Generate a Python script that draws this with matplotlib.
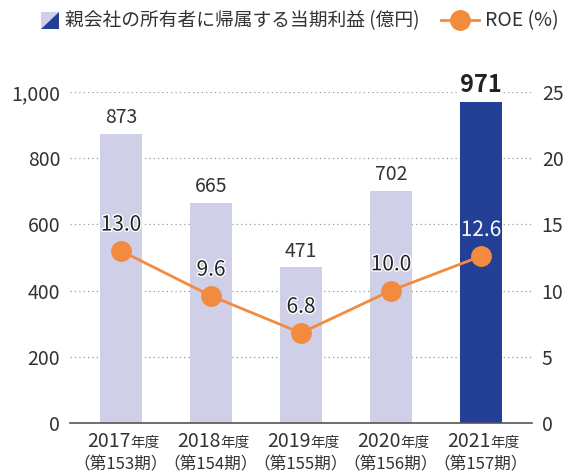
import matplotlib.pyplot as plt
import matplotlib.patheffects as pe
from matplotlib.patches import Polygon
from matplotlib.lines import Line2D

plt.rcParams['font.family'] = ['Noto Sans CJK JP', 'DejaVu Sans']

years = ['2017', '2018', '2019', '2020', '2021']
terms = ['（第153期）', '（第154期）', '（第155期）', '（第156期）', '（第157期）']
profit = [873, 665, 471, 702, 971]
roe = [13.0, 9.6, 6.8, 10.0, 12.6]
left_ticks = [0, 200, 400, 600, 800, 1000]
right_ticks = [0, 5, 10, 15, 20, 25]

light = '#CFD0E8'
dark = '#233F96'
orange = '#F28B3E'
txt = '#333333'

W, H = 564, 473
fig = plt.figure(figsize=(W/100, H/100), dpi=100)
ax = fig.add_axes([70/W, 1-423/H, 462/W, 331/H])
ax2 = ax.twinx()

x = list(range(len(years)))
colors = [light]*4 + [dark]
ax.bar(x, profit, width=0.47, color=colors, zorder=2)
ax.set_xlim(-0.567, 4.567)
ax.set_ylim(0, 1000)
ax.set_yticks(left_ticks)
ax.set_yticklabels(['{:,}'.format(v) for v in left_ticks])
for v in left_ticks[1:]:
    ax.axhline(v, color='#9a9a9a', lw=0.9, ls=(0, (1, 2.5)), zorder=1)

for sp in ['top', 'left', 'right']:
    ax.spines[sp].set_visible(False)
    ax2.spines[sp].set_visible(False)
ax.spines['bottom'].set_color('#555555')
ax.spines['bottom'].set_linewidth(1.2)
ax2.spines['bottom'].set_visible(False)
ax.tick_params(axis='y', length=0, pad=7, labelsize=14, labelcolor=txt)
ax.tick_params(axis='x', length=0, labelbottom=False)
ax.set_xticks(x)

ax2.set_ylim(0, 25)
ax2.set_yticks(right_ticks)
ax2.tick_params(axis='y', length=0, pad=7, labelsize=14, labelcolor=txt)

# bar value labels
for i, v in enumerate(profit):
    if i == 4:
        ax.annotate(str(v), (i, v), xytext=(0, 3), textcoords='offset points',
                    ha='center', va='bottom', fontsize=17, fontweight='semibold', color='#222222',
                    bbox=dict(fc='white', ec='none', pad=1), zorder=5)
    else:
        ax.annotate(str(v), (i, v), xytext=(0, 4), textcoords='offset points',
                    ha='center', va='bottom', fontsize=14, color=txt, zorder=5)

# ROE line
ax2.plot(x, roe, color=orange, lw=2, marker='o', ms=14, zorder=3)
for i, v in enumerate(roe):
    if i == 4:
        t = ax2.annotate('%.1f' % v, (i, v), xytext=(0, 11), textcoords='offset points',
                         ha='center', va='bottom', fontsize=15, color='white', zorder=6)
        t.set_path_effects([pe.withStroke(linewidth=2.5, foreground=dark)])
    else:
        t = ax2.annotate('%.1f' % v, (i, v), xytext=(0, 11), textcoords='offset points',
                         ha='center', va='bottom', fontsize=15, color='#222222', zorder=6)
        t.set_path_effects([pe.withStroke(linewidth=2, foreground='white')])

# category labels
for i in x:
    ax.annotate(years[i], (i, 0), xycoords=('data', 'axes fraction'), xytext=(7, -13),
                textcoords='offset points', ha='right', va='center', fontsize=14, color=txt)
    ax.annotate('年度', (i, 0), xycoords=('data', 'axes fraction'), xytext=(7, -14),
                textcoords='offset points', ha='left', va='center', fontsize=10.5, color=txt)
    ax.annotate(terms[i], (i, 0), xycoords=('data', 'axes fraction'), xytext=(0, -30.5),
                textcoords='offset points', ha='center', va='center', fontsize=12, color=txt)

# legend
ly = H - 20.5
fig.patches.append(Polygon([[41, ly + 8.5], [59, ly + 8.5], [41, ly - 8.5]], closed=True,
                           fc=light, ec='none', transform=None, figure=fig))
fig.patches.append(Polygon([[59, ly + 8.5], [59, ly - 8.5], [41, ly - 8.5]], closed=True,
                           fc=dark, ec='none', transform=None, figure=fig))
fig.text(65/W, ly/H, '親会社の所有者に帰属する当期利益 (億円)', ha='left', va='center',
         fontsize=13.5, color=txt)
fig.lines.append(Line2D([441/W, 479/W], [ly/H, ly/H], transform=fig.transFigure,
                        color=orange, lw=2))
fig.lines.append(Line2D([460/W], [ly/H], transform=fig.transFigure,
                        color=orange, marker='o', ms=14))
fig.text(485/W, ly/H, 'ROE (%)', ha='left', va='center', fontsize=14, color=txt)

fig.savefig('out.png', dpi=100)
